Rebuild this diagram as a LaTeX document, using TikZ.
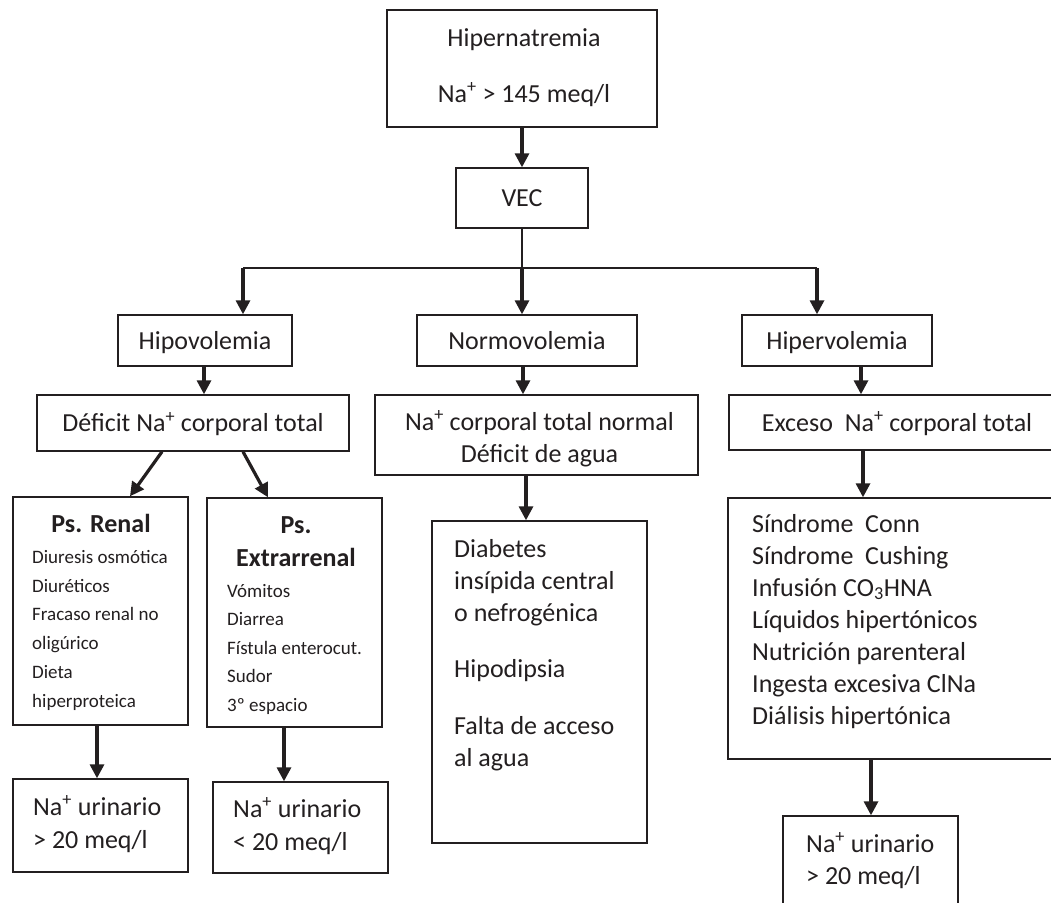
\documentclass[tikz,border=0pt]{standalone}
\usepackage{fontspec}
\setmainfont{Carlito}
\usetikzlibrary{arrows.meta}
\definecolor{ink}{RGB}{35,31,32}
\newcommand\mainfs{\fontsize{26}{31}\selectfont}
\newcommand\smallfs{\fontsize{19}{23}\selectfont}
\begin{document}
\begin{tikzpicture}[x=1pt,y=-1pt,
  box/.style={draw=ink,line width=1.4pt,inner sep=0pt,text=ink,font=\mainfs,text height=17pt,text depth=0pt},
  txt/.style={inner sep=0pt,text=ink,font=\mainfs,anchor=base},
  txtl/.style={inner sep=0pt,text=ink,font=\mainfs,anchor=base west},
  stxtl/.style={inner sep=0pt,text=ink,font=\smallfs,anchor=base west},
  conn/.style={draw=ink,line width=1.4pt},
  arr/.style={draw=ink,line width=3.2pt,-{Triangle[width=14pt,length=14pt]}}]
\useasboundingbox (0,0) rectangle (1051,902);
\fill[white] (0,0) rectangle (1051,902);
\clip (0,0) rectangle (1051,902);

% boxes
\node[box,minimum width=270pt,minimum height=117pt] (hiper) at (522,68.5) {};
\node[txt] (hipert1) at (524,46) {Hipernatremia};
\node[txt] (hipert2) at (524,102) {Na\textsuperscript{+} > 145 meq/l};

\node[box,minimum width=132pt,minimum height=60pt] (vec) at (522,198) {VEC};

\node[box,minimum width=174pt,minimum height=51pt] (hipo) at (205,340.5) {Hipovolemia};
\node[box,minimum width=220pt,minimum height=51pt] (normo) at (527,340.5) {Normovolemia\hspace{19pt}};
\node[box,minimum width=190pt,minimum height=51pt] (hiperv) at (837,340.5) {Hipervolemia};

\node[box,minimum width=312pt,minimum height=56pt] (deficit) at (193,423) {Déficit Na\textsuperscript{+} corporal total};
\node[box,minimum width=323pt,minimum height=80pt] (nacorp) at (536.5,435) {};
\node[txt] (nacorpt1) at (539.5,430) {Na\textsuperscript{+} corporal total normal};
\node[txt] (nacorpt2) at (539.5,462) {Déficit de agua};
\node[box,minimum width=336pt,minimum height=55pt] (exceso) at (897,422.5) {Exceso\ \ Na\textsuperscript{+} corporal total};

\node[box,minimum width=175pt,minimum height=228pt] (renal) at (100.5,611) {};
\node[txt,font=\mainfs\bfseries] (renalt) at (101,532) {Ps. Renal};
\node[stxtl] (r1) at (32,563) {Diuresis osmótica};
\node[stxtl] (r2) at (32,592) {Diuréticos};
\node[stxtl] (r3) at (32,620) {Fracaso renal no};
\node[stxtl] (r4) at (32,649) {oligúrico};
\node[stxtl] (r5) at (32,678) {Dieta};
\node[stxtl] (r6) at (32,707) {hiperproteica};

\node[box,minimum width=175pt,minimum height=229pt] (extra) at (294.5,612.5) {};
\node[txt,font=\mainfs\bfseries] (extrat1) at (296,533) {Ps.};
\node[txt,font=\mainfs\bfseries] (extrat2) at (296,566) {Extrarrenal};
\node[stxtl] (e1) at (227,597) {Vómitos};
\node[stxtl] (e2) at (227,625.5) {Diarrea};
\node[stxtl] (e3) at (227,654) {Fístula enterocut.};
\node[stxtl] (e4) at (227,682.5) {Sudor};
\node[stxtl] (e5) at (227,711) {3º espacio};

\node[box,minimum width=215pt,minimum height=322pt] (diab) at (539.5,682) {};
\node[txtl] (d1) at (454,557) {Diabetes};
\node[txtl] (d2) at (454,589) {insípida central};
\node[txtl] (d3) at (454,621) {o nefrogénica};
\node[txtl] (d4) at (454,677) {Hipodipsia};
\node[txtl] (d5) at (454,734) {Falta de acceso};
\node[txtl] (d6) at (454,766) {al agua};

\node[box,minimum width=337pt,minimum height=261pt] (causas) at (896.5,628.5) {};
\node[txtl] (c1) at (752,532) {Síndrome\ \ Conn};
\node[txtl] (c2) at (752,564) {Síndrome\ \ Cushing};
\node[txtl] (c3) at (752,596) {Infusión CO\textsubscript{3}HNA};
\node[txtl] (c4) at (752,628) {Líquidos hipertónicos};
\node[txtl] (c5) at (752,660) {Nutrición parenteral};
\node[txtl] (c6) at (752,692) {Ingesta excesiva ClNa};
\node[txtl] (c7) at (752,724) {Diálisis hipertónica};

\node[box,minimum width=175pt,minimum height=93pt] (uri1) at (100.5,825.5) {};
\node[txtl] (u1a) at (33,815) {Na\textsuperscript{+} urinario};
\node[txtl] (u1b) at (33,848) {> 20 meq/l};
\node[box,minimum width=175pt,minimum height=91pt] (uri2) at (300.5,827.5) {};
\node[txtl] (u2a) at (233,817) {Na\textsuperscript{+} urinario};
\node[txtl] (u2b) at (233,850) {< 20 meq/l};
\node[box,minimum width=175pt,minimum height=99pt] (uri3) at (870.5,865.5) {};
\node[txtl] (u3a) at (806,852) {Na\textsuperscript{+} urinario};
\node[txtl] (u3b) at (806,884) {> 20 meq/l};

% connectors
\coordinate (bl) at (243,268);
\coordinate (bm) at (522,268);
\coordinate (br) at (817,268);
\draw[arr] (vec.north |- hiper.south) -- (vec.north);
\draw[conn] (vec.south) -- (vec.south |- bl);
\draw[conn] (bl) -- (br);
\draw[arr] (bl) -- (bl |- hipo.north);
\draw[arr] (bm) -- (bm |- normo.north);
\draw[arr] (br) -- (br |- hiperv.north);
\draw[arr] ([xshift=-1pt]hipo.south) -- ([xshift=-1pt]hipo.south |- deficit.north);
\draw[arr] ([xshift=-4pt]normo.south) -- ([xshift=-4pt]normo.south |- nacorp.north);
\draw[arr] ([xshift=24pt]hiperv.south) -- ([xshift=24pt]hiperv.south |- exceso.north);
\draw[arr] ([xshift=-31pt]deficit.south) -- ([xshift=29.5pt]renal.north);
\draw[arr] ([xshift=50pt]deficit.south) -- ([xshift=-26.5pt]extra.north);
\draw[arr] ([xshift=-10.5pt]nacorp.south) -- ([xshift=-10.5pt]nacorp.south |- diab.north);
\draw[arr] ([xshift=-34pt]exceso.south) -- ([xshift=-34pt]exceso.south |- causas.north);
\draw[arr] ([xshift=-3.5pt]renal.south) -- ([xshift=-3.5pt]renal.south |- uri1.north);
\draw[arr] ([xshift=-10.5pt]extra.south) -- ([xshift=-10.5pt]extra.south |- uri2.north);
\draw[arr] ([xshift=-25.5pt]causas.south) -- ([xshift=-25.5pt]causas.south |- uri3.north);
\end{tikzpicture}
\end{document}
